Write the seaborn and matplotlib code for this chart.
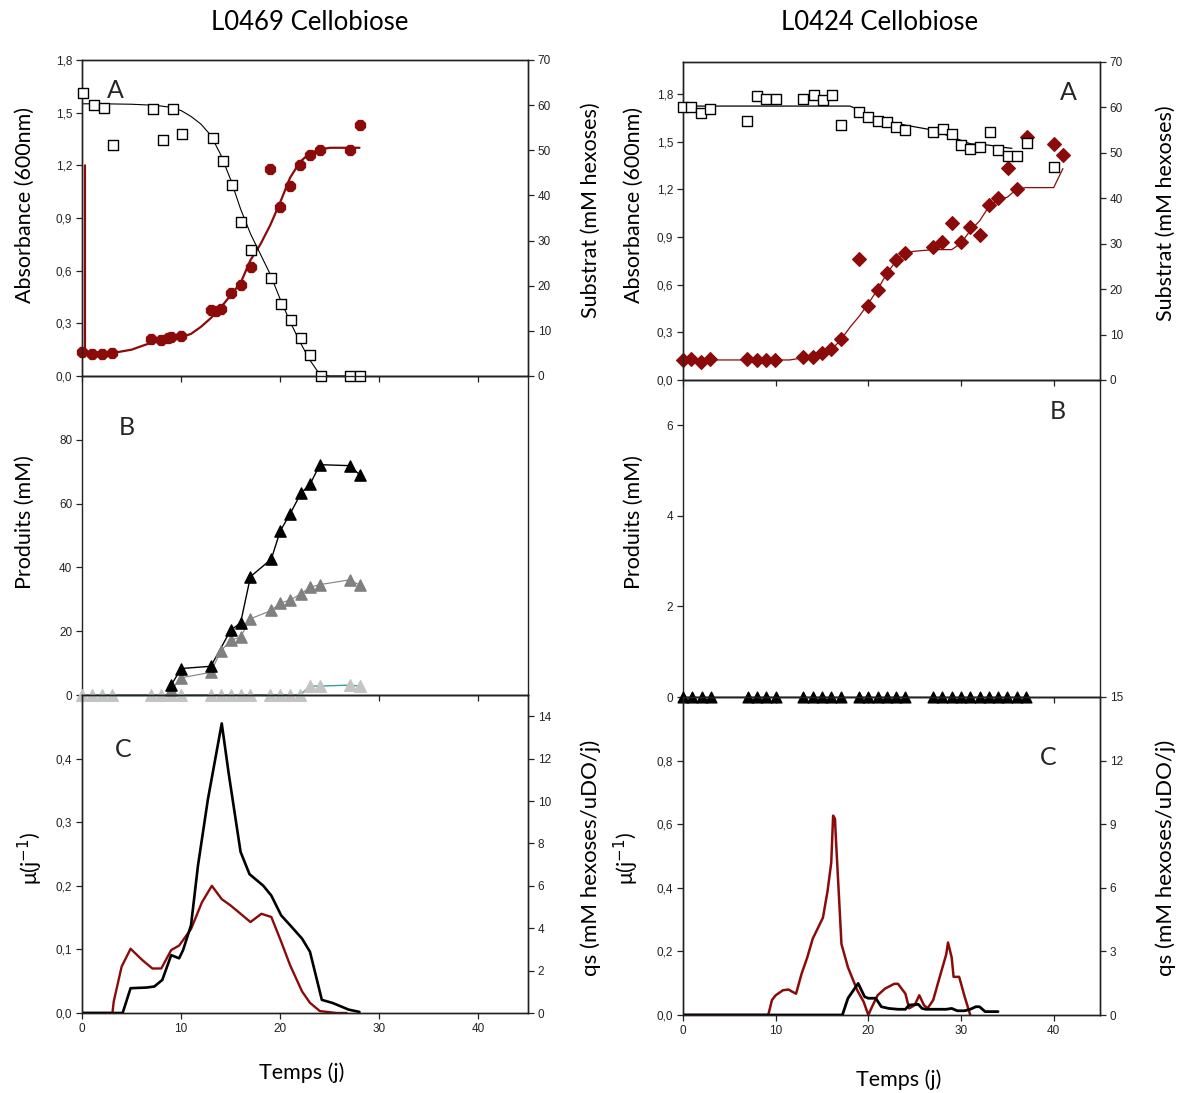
import numpy as np
import pandas as pd
import matplotlib
matplotlib.use('Agg')
import matplotlib.pyplot as plt
import seaborn as sns

sns.set_style('ticks')
plt.rcParams['font.family'] = ['Liberation Sans', 'DejaVu Sans']

RED = '#8b0b0b'
TEAL = '#3a9c9c'
GRAY = '#808080'
LGRAY = '#c4c4c4'
LABEL_FONT = ['Lato', 'DejaVu Sans']

# ---------------- L0469 : panel A ----------------
l1_sub_t = [0.15, 1.2, 2.2, 3.1, 7.2, 8.2, 9.2, 10.1, 13.2, 14.2, 15.1, 16.0, 17.1,
            19.1, 20.1, 21.1, 22.1, 23.0, 24.1, 27.0, 28.0]
l1_sub = [62.6, 60.1, 59.4, 51.1, 59.1, 52.2, 59.1, 53.5, 52.8, 47.6, 42.3, 34.2, 27.9,
          21.6, 15.9, 12.5, 8.5, 4.6, 0.0, 0.0, 0.0]
l1_subfit_t = [0, 2, 5, 7, 8, 9, 10, 11, 12, 13, 14, 15, 16, 17, 18, 19, 20, 21, 22, 23, 24, 25, 28]
l1_subfit = [60.3, 60.3, 60.2, 60.0, 59.8, 59.5, 58.8, 57.5, 55.8, 53.3, 49.0, 43.5, 37.0,
             31.5, 27.0, 22.5, 17.0, 12.0, 7.5, 3.5, 0.3, 0.0, 0.0]
l1_od_t = [0, 1, 2, 3, 7, 8, 8.7, 9, 10, 13, 13.5, 14, 15, 16, 17.1, 19, 20, 21, 22, 23, 24, 27, 28]
l1_od = [0.138, 0.125, 0.123, 0.133, 0.208, 0.205, 0.215, 0.22, 0.227, 0.375, 0.37, 0.38,
         0.47, 0.52, 0.62, 1.18, 0.96, 1.08, 1.20, 1.26, 1.29, 1.29, 1.43]
l1_odfit_t = [0.3, 0.3, 3, 5, 7, 8, 9, 10, 11, 12, 13, 14, 15, 16, 17, 18, 19, 20, 21, 22, 23, 24, 25, 28]
l1_odfit = [1.2, 0.14, 0.13, 0.15, 0.19, 0.20, 0.21, 0.22, 0.24, 0.28, 0.33, 0.39, 0.46,
            0.53, 0.66, 0.75, 0.86, 0.99, 1.13, 1.22, 1.27, 1.29, 1.30, 1.30]

# ---------------- L0469 : panel B ----------------
l1_p1_t = [9.0, 10.0, 13.0, 15.0, 16.0, 17.0, 19.1, 20.0, 21.0, 22.1, 23.0, 24.0, 27.0, 28.0]
l1_p1 = [3.1, 8.3, 9.0, 20.3, 22.6, 37.1, 42.6, 51.4, 56.8, 63.3, 66.0, 72.2, 71.9, 69.1]
l1_p2_t = [9.0, 10.0, 13.0, 14.0, 15.0, 16.0, 17.0, 19.1, 20.0, 21.0, 22.1, 23.0, 24.0, 27.0, 28.0]
l1_p2 = [1.5, 5.4, 7.1, 13.8, 17.1, 18.2, 23.9, 26.5, 28.8, 29.8, 31.7, 33.8, 34.6, 36.1, 34.5]
l1_p3_t = [0, 1, 2, 3, 7, 8, 9, 10, 13, 14, 15, 16, 17, 19, 20, 21, 22, 23, 24, 27, 28]
l1_p3 = [0, 0, 0, 0, 0, 0, 0, 0, 0, 0, 0, 0, 0, 0, 0, 0, 0, 2.8, 2.8, 3.1, 2.8]

# ---------------- L0469 : panel C ----------------
l1_qs_t = [0, 4.1, 4.9, 6.5, 7.3, 8.1, 9.0, 9.8, 10.2, 11.0, 11.7, 12.7, 14.1, 14.8, 16.0,
           16.9, 18.3, 19.1, 20.1, 21.0, 22.2, 23.0, 24.2, 25.3, 26.9, 28.0]
l1_qs = [0, 0, 1.17, 1.2, 1.25, 1.56, 2.73, 2.58, 2.97, 4.14, 6.95, 10.07, 13.66, 11.3, 7.6,
         6.55, 6.0, 5.54, 4.6, 4.14, 3.51, 2.89, 0.62, 0.47, 0.16, 0.05]
l1_mu_t = [0, 3.07, 3.2, 4.0, 4.9, 6.1, 7.1, 8.0, 9.0, 9.8, 11.0, 12.1, 13.1, 14.1, 15.0,
           16.0, 17.0, 18.1, 19.1, 20.1, 21.0, 22.2, 23.0, 24.0, 25.7, 26.7]
l1_mu = [0, 0, 0.018, 0.073, 0.101, 0.083, 0.07, 0.07, 0.099, 0.106, 0.132, 0.174, 0.2,
         0.179, 0.169, 0.156, 0.143, 0.156, 0.151, 0.112, 0.075, 0.034, 0.016, 0.003, 0, 0]

# ---------------- L0424 : panel A ----------------
l2_sub_t = [0, 0.9, 1.9, 2.9, 6.9, 8.0, 9.0, 10.0, 13.0, 14.1, 15.1, 16.1, 17.1, 19.0, 20.0,
            21.0, 22.0, 23.0, 24.0, 27.0, 28.1, 29.0, 30.0, 31.0, 32.0, 33.1, 34.0, 35.1,
            36.0, 37.1, 40.0]
l2_sub = [60.1, 60.1, 58.8, 59.7, 57.0, 62.5, 61.9, 61.9, 61.9, 62.7, 61.6, 62.7, 56.1, 59.0,
          57.9, 57.0, 56.8, 55.8, 55.1, 54.6, 55.3, 54.2, 51.7, 50.9, 51.3, 54.7, 50.7, 49.2,
          49.4, 52.2, 46.9]
l2_subfit_t = [0, 18, 19, 20, 22, 24, 27, 29, 31, 33, 35, 35.5]
l2_subfit = [60.3, 60.3, 59.5, 58.3, 57.0, 56.1, 55.0, 53.5, 52.0, 51.7, 51.1, 51.0]
l2_od_t = [0, 0.9, 1.9, 2.9, 6.9, 8.0, 9.0, 9.9, 13.0, 14.0, 15.0, 16.0, 17.0, 19.0, 20.0,
           21.0, 22.0, 23.0, 24.0, 27.0, 28.0, 29.0, 30.0, 31.0, 32.0, 33.0, 34.0, 35.1,
           36.0, 37.1, 40.0, 41.0]
l2_od = [0.126, 0.133, 0.112, 0.133, 0.133, 0.126, 0.126, 0.126, 0.143, 0.147, 0.168, 0.196,
         0.259, 0.76, 0.463, 0.568, 0.674, 0.754, 0.796, 0.834, 0.869, 0.985, 0.869, 0.964,
         0.912, 1.10, 1.143, 1.333, 1.20, 1.528, 1.486, 1.417]
l2_odfit_t = [0, 11.5, 13, 15, 16, 17, 18, 19, 20, 21, 22, 23, 24, 25, 27, 29, 30, 31, 32,
              33, 34, 35, 36, 37, 40, 41]
l2_odfit = [0.126, 0.126, 0.14, 0.16, 0.19, 0.25, 0.33, 0.40, 0.48, 0.57, 0.67, 0.75, 0.80,
            0.81, 0.82, 0.82, 0.86, 0.94, 1.00, 1.09, 1.13, 1.15, 1.20, 1.21, 1.21, 1.33]

# ---------------- L0424 : panel B ----------------
l2_p_t = [0, 1, 2, 3, 7, 8, 9, 10, 13, 14, 15, 16, 17, 19, 20, 21, 22, 23, 24,
          27, 28, 29, 30, 31, 32, 33, 34, 35, 36, 37]
l2_p = [0] * len(l2_p_t)

# ---------------- L0424 : panel C ----------------
l2_mu_t = [0, 9.2, 9.6, 10.0, 10.8, 11.4, 11.8, 12.2, 12.8, 13.4, 14.0, 15.1, 15.6, 16.0,
           16.2, 16.4, 16.5, 16.8, 17.1, 17.8, 18.8, 19.5, 20.0, 20.4, 21.0, 21.8, 22.8,
           23.2, 24.0, 24.4, 25.0, 25.5, 26.0, 26.4, 27.0, 27.6, 28.4, 28.6, 29.0, 29.2,
           29.8, 30.4, 31.0]
l2_mu = [0, 0, 0.047, 0.062, 0.078, 0.08, 0.073, 0.067, 0.13, 0.18, 0.24, 0.306, 0.39, 0.48,
         0.627, 0.617, 0.554, 0.39, 0.223, 0.15, 0.078, 0.041, 0.0, 0.026, 0.062, 0.083,
         0.098, 0.098, 0.067, 0.021, 0.031, 0.062, 0.031, 0.021, 0.047, 0.109, 0.19, 0.228,
         0.18, 0.12, 0.12, 0.057, 0.0]
l2_qs_t = [0, 17.2, 17.8, 18.9, 19.6, 20.0, 20.8, 21.4, 22.2, 23.2, 24.0, 24.4, 25.4, 25.8,
           26.2, 28.4, 29.0, 29.6, 30.4, 31.0, 31.6, 32.0, 32.6, 34.0]
l2_qs = [0, 0, 0.79, 1.49, 0.86, 0.79, 0.79, 0.39, 0.31, 0.27, 0.27, 0.47, 0.5, 0.31, 0.27,
         0.27, 0.31, 0.2, 0.2, 0.27, 0.39, 0.39, 0.16, 0.16]

X_TICKS = [0, 10, 20, 30, 40]
W, H = 1180, 1093
fig = plt.figure(figsize=(W / 100, H / 100), dpi=100, facecolor='white')


def add_ax(x0, x1, y0, y1):
    return fig.add_axes([x0 / W, 1 - y1 / H, (x1 - x0) / W, (y1 - y0) / H])


def style(ax, xlabels=False, twin=False):
    if not twin:
        ax.set_xlim(0, 45)
        ax.set_xticks(X_TICKS)
        if xlabels:
            ax.set_xticklabels([str(t) for t in X_TICKS])
        else:
            ax.set_xticklabels([])
    ax.patch.set_visible(False)
    ax.tick_params(labelsize=8.5, length=4, width=0.9, colors='#222222', direction='out', pad=3)
    for s in ax.spines.values():
        s.set_visible(True)
        s.set_linewidth(1.0)
        s.set_color('#222222')
    ax.set_xlabel('')
    ax.set_ylabel('')


def comma(vals, fmt='{:.1f}'):
    return [fmt.format(v).replace('.', ',') for v in vals]


def line(ax, x, y, color, lw):
    sns.lineplot(x=x, y=y, ax=ax, sort=False, estimator=None, color=color, linewidth=lw,
                 legend=False)


def pts(ax, x, y, marker, fc, ec, s, lw=1.0, z=3):
    sns.scatterplot(x=x, y=y, ax=ax, marker=marker, color=fc, edgecolor=ec, s=s,
                    linewidth=lw, legend=False, clip_on=False, zorder=z)


# ===================== LEFT column (L0469) =====================
LX0, LX1 = 82, 528
axA = add_ax(LX0, LX1, 60, 376)
axAr = axA.twinx()
line(axA, l1_odfit_t, l1_odfit, RED, 1.6)
pts(axA, l1_od_t, l1_od, '8', RED, RED, 60)
line(axAr, l1_subfit_t, l1_subfit, 'black', 0.8)
pts(axAr, l1_sub_t, l1_sub, 's', 'white', 'black', 62, lw=1.0)
style(axA); style(axAr, twin=True)
axA.set_ylim(0, 1.8)
axA.set_yticks(np.arange(0, 1.81, 0.3))
axA.set_yticklabels(comma(np.arange(0, 1.81, 0.3)))
axAr.set_ylim(0, 70)
axAr.set_yticks(range(0, 71, 10))
axA.text(0.074, 0.905, 'A', transform=axA.transAxes, fontsize=18, family=LABEL_FONT,
         ha='center', va='center')

axB = add_ax(LX0, LX1, 376, 695)
line(axB, l1_p3_t, l1_p3, TEAL, 1.0)
line(axB, l1_p2_t, l1_p2, GRAY, 0.8)
line(axB, l1_p1_t, l1_p1, 'black', 1.0)
pts(axB, l1_p3_t, l1_p3, '^', LGRAY, LGRAY, 70)
pts(axB, l1_p2_t, l1_p2, '^', GRAY, GRAY, 65)
pts(axB, l1_p1_t, l1_p1, '^', 'black', 'black', 65)
style(axB)
axB.set_ylim(0, 100)
axB.set_yticks([0, 20, 40, 60, 80])
axB.text(0.1, 0.84, 'B', transform=axB.transAxes, fontsize=18, family=LABEL_FONT,
         ha='center', va='center')

axC = add_ax(LX0, LX1, 695, 1013)
axCr = axC.twinx()
line(axC, l1_mu_t, l1_mu, RED, 1.7)
line(axCr, l1_qs_t, l1_qs, 'black', 1.9)
style(axC, xlabels=True); style(axCr, twin=True)
axC.set_ylim(0, 0.5)
axC.set_yticks([0, 0.1, 0.2, 0.3, 0.4])
axC.set_yticklabels(comma([0, 0.1, 0.2, 0.3, 0.4]))
axCr.set_ylim(0, 15)
axCr.set_yticks(range(0, 15, 2))
axC.text(0.092, 0.83, 'C', transform=axC.transAxes, fontsize=18, family=LABEL_FONT,
         ha='center', va='center')

# ===================== RIGHT column (L0424) =====================
RX0, RX1 = 683, 1100
bxA = add_ax(RX0, RX1, 62, 380)
bxAr = bxA.twinx()
line(bxA, l2_odfit_t, l2_odfit, RED, 0.9)
pts(bxA, l2_od_t, l2_od, 'D', RED, RED, 48)
line(bxAr, l2_subfit_t, l2_subfit, 'black', 0.9)
pts(bxAr, l2_sub_t, l2_sub, 's', 'white', 'black', 62, lw=1.0)
style(bxA); style(bxAr, twin=True)
bxA.set_ylim(0, 2.0)
bxA.set_yticks(np.arange(0, 1.81, 0.3))
bxA.set_yticklabels(comma(np.arange(0, 1.81, 0.3)))
bxAr.set_ylim(0, 70)
bxAr.set_yticks(range(0, 71, 10))
bxA.text(0.925, 0.905, 'A', transform=bxA.transAxes, fontsize=18, family=LABEL_FONT,
         ha='center', va='center')

bxB = add_ax(RX0, RX1, 380, 697)
line(bxB, l2_p_t, l2_p, 'black', 1.0)
pts(bxB, l2_p_t, l2_p, '^', 'black', 'black', 60)
style(bxB)
bxB.set_ylim(0, 7)
bxB.set_yticks([0, 2, 4, 6])
bxB.text(0.9, 0.9, 'B', transform=bxB.transAxes, fontsize=18, family=LABEL_FONT,
         ha='center', va='center')

bxC = add_ax(RX0, RX1, 697, 1015)
bxCr = bxC.twinx()
line(bxC, l2_mu_t, l2_mu, RED, 1.8)
line(bxCr, l2_qs_t, l2_qs, 'black', 2.0)
style(bxC, xlabels=True); style(bxCr, twin=True)
bxC.set_ylim(0, 1.0)
bxC.set_yticks([0, 0.2, 0.4, 0.6, 0.8])
bxC.set_yticklabels(comma([0, 0.2, 0.4, 0.6, 0.8]))
bxCr.set_ylim(0, 15)
bxCr.set_yticks(range(0, 16, 3))
bxC.text(0.875, 0.81, 'C', transform=bxC.transAxes, fontsize=18, family=LABEL_FONT,
         ha='center', va='center')

# ===================== text labels =====================
def ftext(x, y, s, size=15.5, rot=0):
    fig.text(x / W, 1 - y / H, s, fontsize=size, family=LABEL_FONT, rotation=rot,
             ha='center', va='center', color='black')

ftext(310, 22, 'L0469 Cellobiose', 18.5)
ftext(880, 22, 'L0424 Cellobiose', 18.5)
ftext(25, 205, 'Absorbance (600nm)', rot=90)
ftext(591, 210, 'Substrat (mM hexoses)', rot=90)
ftext(634, 205, 'Absorbance (600nm)', rot=90)
ftext(1166, 213, 'Substrat (mM hexoses)', rot=90)
ftext(25, 522, 'Produits (mM)', rot=90)
ftext(634, 522, 'Produits (mM)', rot=90)
ftext(30, 858, 'μ(j$^{-1}$)', rot=90)
ftext(626, 858, 'μ(j$^{-1}$)', rot=90)
ftext(591, 858, 'qs (mM hexoses/uDO/j)', size=16, rot=90)
ftext(1166, 858, 'qs (mM hexoses/uDO/j)', size=16, rot=90)
ftext(302, 1073, 'Temps (j)')
ftext(899, 1080, 'Temps (j)')

fig.savefig('out.png', dpi=100, facecolor='white')
